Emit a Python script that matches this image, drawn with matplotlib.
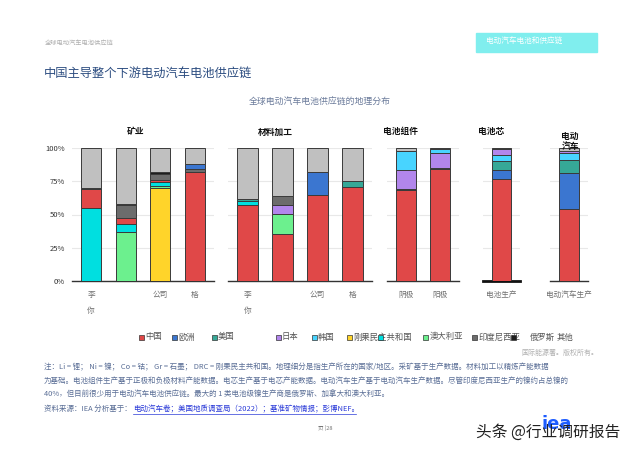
import matplotlib
matplotlib.use("Agg")
import matplotlib.pyplot as plt
from matplotlib.patches import Rectangle

plt.rcParams['font.family'] = ['Noto Sans CJK SC', 'DejaVu Sans']

# bar labels, panel titles
categories = ['李\n\n你', '', '公司', '格', '李\n\n你', '', '公司', '格',
              '阴极', '阳极', '电池生产', '电动汽车生产']
panel_titles = ['矿业', '材料加工', '电池组件', '电池芯', '电动\n汽车']
panel_sizes = [4, 4, 2, 1, 1]

# shares in % per bar
china = [14, 4.5, 1.8, 81.6, 57.3, 35.4, 64.4, 70.5, 68.2, 84.3, 76.5, 54]
europe = [0, 0, 0, 3.6, 0, 0, 17.9, 0, 0, 0, 7.3, 27.5]
usa = [0, 0, 0, 0, 1.8, 0, 0, 4.8, 0, 0, 6.3, 9.8]
japan = [0, 0, 0, 0, 0, 7.3, 0, 0, 14.1, 11.2, 4, 2]
korea = [0, 0, 0, 0, 0, 0, 0, 0, 14.4, 3, 4.8, 4.6]
drc = [0, 0, 70, 0, 0, 0, 0, 0, 0, 0, 0, 0]
chile = [55, 6, 3, 0, 2.5, 0, 0, 0, 0, 0, 0, 0]
australia = [0, 37, 1.2, 0, 0, 14.6, 0, 0, 0, 0, 0, 0]
indonesia = [0, 9.5, 4.8, 2.7, 0, 6.6, 0, 0, 0, 0, 0, 0]
russia = [1, 0.8, 0.8, 0, 0, 0, 0, 0, 1, 0.5, 1.1, 0]
other = [30, 42.2, 18.4, 12.1, 38.4, 36.1, 17.7, 24.7, 2.3, 1, 0, 2.1]

# stacking order (bottom -> top) for each bar
stack_order = [
    ['chile', 'china', 'russia', 'other'],
    ['australia', 'chile', 'china', 'indonesia', 'russia', 'other'],
    ['drc', 'australia', 'chile', 'china', 'indonesia', 'russia', 'other'],
    ['china', 'indonesia', 'europe', 'other'],
    ['china', 'chile', 'usa', 'other'],
    ['china', 'australia', 'japan', 'indonesia', 'other'],
    ['china', 'europe', 'other'],
    ['china', 'usa', 'other'],
    ['china', 'russia', 'japan', 'korea', 'other'],
    ['china', 'russia', 'japan', 'korea', 'other'],
    ['china', 'europe', 'usa', 'korea', 'japan', 'russia'],
    ['china', 'europe', 'usa', 'korea', 'japan', 'other'],
]

series = dict(china=china, europe=europe, usa=usa, japan=japan, korea=korea,
              drc=drc, chile=chile, australia=australia, indonesia=indonesia,
              russia=russia, other=other)
colors = dict(china='#e04848', europe='#3b76d0', usa='#36a897', japan='#b286ec',
              korea='#48d4ff', drc='#ffd42a', chile='#00dfe0', australia='#6cf08e',
              indonesia='#6c6c6c', russia='#1e1e1e', other='#c0c0c0')

W, H = 640, 453
fig = plt.figure(figsize=(6.4, 4.53), dpi=100)


def fx(x):
    return x / W


def fy(y):
    return 1 - y / H


# header
fig.text(fx(45), fy(44), '全球电动汽车电池供应链', fontsize=4.5, color='#b0b0b0', va='center')
fig.patches.append(Rectangle((fx(476), fy(52)), fx(121), 19 / H, transform=fig.transFigure,
                             color='#80eeee', zorder=0))
fig.text(fx(486), fy(42), '电动汽车电池和供应链', fontsize=5.5, color='white', va='center')
fig.text(fx(44), fy(73), '中国主导整个下游电动汽车电池供应链', fontsize=8.8,
         color='#2b4c80', va='center')
fig.text(fx(320), fy(102), '全球电动汽车电池供应链的地理分布', fontsize=6.4,
         color='#6a7a9a', va='center', ha='center')

# panels
ax_px = [(72, 214), (228, 372), (387, 459), (483, 520), (550, 588)]
title_px = [136, 275, 400, 491, 570]
top, bottom = 148, 281
start = 0
for p, (x0, x1) in enumerate(ax_px):
    n = panel_sizes[p]
    ax = fig.add_axes([fx(x0), fy(bottom), fx(x1 - x0), (bottom - top) / H])
    for j in range(n):
        i = start + j
        b = 0
        for key in stack_order[i]:
            v = series[key][i]
            if v <= 0:
                continue
            ax.bar(j, v, bottom=b, width=0.58, color=colors[key],
                   edgecolor='#3a3a3a', linewidth=0.7, zorder=3)
            b += v
    ax.set_xlim(-0.55, n - 0.45)
    ax.set_ylim(0, 100)
    ax.set_yticks([0, 25, 50, 75, 100])
    ax.grid(axis='y', color='#e8e8e8', linewidth=0.8, zorder=0)
    for s in ['top', 'right', 'left']:
        ax.spines[s].set_visible(False)
    ax.spines['bottom'].set_color('#111111' if p == 3 else '#333333')
    ax.spines['bottom'].set_linewidth(2 if p == 3 else 1)
    ax.set_xticks(range(n))
    ax.set_xticklabels(categories[start:start + n], fontsize=5.5, color='#707070',
                       linespacing=1.0)
    ax.tick_params(axis='both', length=0, pad=7)
    if p == 0:
        ax.set_yticklabels(['0%', '25%', '50%', '75%', '100%'], fontsize=5.5, color='#333333')
        ax.tick_params(axis='y', pad=5)
    else:
        ax.set_yticklabels([])
    fig.text(fx(title_px[p]), fy(132), panel_titles[p], fontsize=6.3, fontweight='bold',
             ha='center', va='top' if p == 4 else 'center', color='#111111',
             linespacing=1.1)
    start += n

# legend drawn by hand, laid out like the source
leg_marks = [(141, 'china'), (174, 'europe'), (214, 'usa'), (278, 'japan'), (314, 'korea'),
             (349, 'drc'), (380, 'chile'), (425, 'australia'), (474, 'indonesia'),
             (513, 'russia')]
leg_texts = [(145, '中国'), (178, '欧洲'), (218, '美国'), (282, '日本'), (318, '韩国'),
             (353, '刚果民主共和国'), (430, '澳大利亚'), (478, '印度尼西亚'),
             (530, '俄罗斯'), (557, '其他')]
ly = 337
for x, lab in leg_texts:
    fig.text(fx(x), fy(ly), lab, fontsize=6, color='#555555', va='center')
for x, key in leg_marks:
    fig.patches.append(Rectangle((fx(x - 2.5), fy(ly + 2.5)), 5 / W, 5 / H,
                                 transform=fig.transFigure, facecolor=colors[key],
                                 edgecolor='#333333', linewidth=0.5, zorder=5))

fig.text(fx(598), fy(353), '国际能源署。版权所有。', fontsize=5, color='#b0b0b0',
         ha='right', va='center')

notes = [
    '注：Li = 锂； Ni = 镍； Co = 钴； Gr = 石墨； DRC = 刚果民主共和国。地理细分是指生产所在的国家/地区。采矿基于生产数据。材料加工以精炼产能数据',
    '为基础。电池组件生产基于正极和负极材料产能数据。电芯生产基于电芯产能数据。电动汽车生产基于电动汽车生产数据。尽管印度尼西亚生产的镍约占总镍的',
    '40%，但目前很少用于电动汽车电池供应链。最大的 1 类电池级镍生产商是俄罗斯、加拿大和澳大利亚。',
]
for k, line in enumerate(notes):
    fig.text(fx(44), fy(367 + 14 * k), line, fontsize=5.4, color='#5a6e96', va='center')
fig.text(fx(44), fy(409), '资料来源：IEA 分析基于：', fontsize=5.4, color='#5a6e96', va='center')
fig.text(fx(133), fy(409), '电动汽车卷；美国地质调查局（2022）；基准矿物情报；彭博NEF。',
         fontsize=5.4, color='#2a3ad8', va='center')
fig.lines.append(plt.Line2D([fx(133), fx(356)], [fy(414), fy(414)], transform=fig.transFigure,
                            color='#2a3ad8', linewidth=0.5))

# footer
fig.text(fx(318), fy(428), '页 |28', fontsize=4, color='#777777', va='center')
fig.text(fx(557), fy(424), 'iea', fontsize=13, fontweight='bold', color='#1d5cff',
         ha='center', va='center', family='DejaVu Sans')
fig.text(fx(476), fy(432), '头条 @行业调研报告', fontsize=11.3, color='#222222', va='center')

fig.savefig('out.png', dpi=100)
